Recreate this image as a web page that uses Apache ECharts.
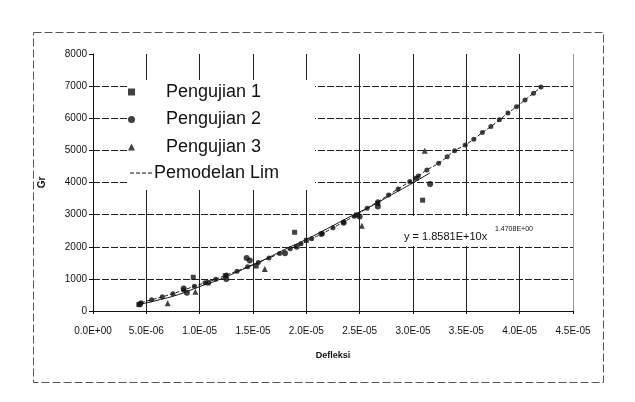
<!DOCTYPE html>
<html><head><meta charset="utf-8">
<script src="https://cdn.jsdelivr.net/npm/echarts@6/dist/echarts.min.js"></script>
<style>html,body{margin:0;padding:0;background:#fff}#c{width:635px;height:402px}</style>
</head><body><div id="c"></div>
<script>
// ---- data ----
const xTickLabels = ['0.0E+00','5.0E-06','1.0E-05','1.5E-05','2.0E-05','2.5E-05','3.0E-05','3.5E-05','4.0E-05','4.5E-05'];
const yTickLabels = ['0','1000','2000','3000','4000','5000','6000','7000','8000'];

const pengujian1 = [[4.3e-6,200],[9.4e-6,1050],[1.24e-5,1100],[1.53e-5,1400],[1.89e-5,2450],[2.0e-5,2200],[2.47e-5,2990],[2.67e-5,3350],[3.03e-5,4130],[3.09e-5,3450]];
const pengujian2 = [[4.4e-6,210],[8.5e-6,700],[8.8e-6,570],[1.08e-5,880],[1.25e-5,1000],[1.44e-5,1650],[1.47e-5,1570],[1.8e-5,1800],[1.91e-5,2000],[2.14e-5,2400],[2.35e-5,2750],[2.5e-5,2940],[2.67e-5,3250],[3.16e-5,3950]];
const pengujian3 = [[7.0e-6,240],[9.6e-6,600],[1.61e-5,1310],[2.52e-5,2650],[3.11e-5,4990]];

const modelX = [4.5e-6,5.5e-6,6.5e-6,7.5e-6,8.5e-6,9.5e-6,1.05e-5,1.15e-5,1.25e-5,1.35e-5,1.45e-5,1.55e-5,1.65e-5,1.75e-5,1.85e-5,1.95e-5,2.05e-5,2.15e-5,2.25e-5,2.35e-5,2.45e-5,2.57e-5,2.67e-5,2.77e-5,2.86e-5,2.97e-5,3.05e-5,3.13e-5,3.24e-5,3.32e-5,3.39e-5,3.49e-5,3.57e-5,3.65e-5,3.73e-5,3.81e-5,3.89e-5,3.97e-5,4.05e-5,4.13e-5,4.2e-5];
const modelY = [260,350,440,540,650,770,880,990,1120,1240,1380,1510,1650,1790,1940,2090,2250,2410,2590,2770,2950,3200,3400,3610,3800,4030,4200,4390,4600,4800,4990,5170,5350,5555,5740,5950,6160,6360,6570,6780,6970];

const trendX = [4.3e-6,6e-6,8e-6,1e-5,1.2e-5,1.4e-5,1.6e-5,1.8e-5,2e-5,2.2e-5,2.4e-5,2.6e-5,2.8e-5,3e-5,3.16e-5];
const trendY = [200,330,510,760,1000,1290,1590,1920,2230,2570,2920,3250,3620,3990,4300];

const eqMain = 'y = 1.8581E+10x';
const eqSup = '1.4708E+00';

// ---- chart ----
const FONT = '"Liberation Sans", Arial, sans-serif';
const INK = '#111';
const zip = (a,b) => a.map((v,i)=>[v,b[i]]);
const chart = echarts.init(document.getElementById('c'), null, {renderer:'canvas'});

const ySplitColors = yTickLabels.map((t,i)=> (i===0 || i===yTickLabels.length-1) ? 'transparent' : '#222');
const xSplitColors = xTickLabels.map((t,i)=> i===0 ? 'transparent' : (i===xTickLabels.length-1 ? '#999' : '#222'));
const dashIcon = 'path://M0,0h4v1h-4z M6,0h4v1h-4z M12,0h4v1h-4z M18,0h4v1h-4z';

chart.setOption({
  animation:false,
  backgroundColor:'#fff',
  grid:{left:93, right:62, top:54, bottom:91, containLabel:false},
  xAxis:{
    type:'value', min:0, max:4.5e-5, interval:5e-6,
    name:'Defleksi', nameLocation:'middle', nameGap:40,
    nameTextStyle:{fontFamily:FONT, fontSize:9, fontWeight:'bold', color:INK},
    axisLine:{show:true, lineStyle:{color:INK, width:1}},
    axisTick:{show:true, length:3, lineStyle:{color:INK}},
    axisLabel:{margin:15, fontFamily:FONT, fontSize:10, color:INK,
      formatter:(v)=> xTickLabels[Math.round(v/5e-6)] || ''},
    splitLine:{show:true, lineStyle:{color:xSplitColors, width:1}}
  },
  yAxis:{
    type:'value', min:0, max:8000, interval:1000,
    name:'Gr', nameLocation:'middle', nameGap:46, nameRotate:90,
    nameTextStyle:{fontFamily:FONT, fontSize:10, fontWeight:'bold', color:INK},
    axisLine:{show:true, lineStyle:{color:INK, width:1}},
    axisTick:{show:true, length:4, lineStyle:{color:INK}},
    axisLabel:{margin:6, fontFamily:FONT, fontSize:10, color:INK,
      formatter:(v)=> yTickLabels[Math.round(v/1000)] || ''},
    splitLine:{show:true, lineStyle:{color:ySplitColors, width:1, type:[7,2]}}
  },
  legend:[
    {data:['Pengujian 1','Pengujian 2','Pengujian 3'], orient:'vertical', left:128, top:83,
     padding:0, itemWidth:7, itemHeight:7, itemGap:9.5, selectedMode:false,
     textStyle:{fontFamily:FONT, fontSize:18, color:INK, padding:[0,0,0,26]}},
    {data:[{name:'Pemodelan Lim', icon:dashIcon, itemStyle:{color:INK}}], orient:'vertical', left:130, top:164, padding:0,
     itemWidth:22, itemHeight:8, selectedMode:false,
     textStyle:{fontFamily:FONT, fontSize:18, color:INK, padding:[0,0,0,-3]}}
  ],
  graphic:[
    {type:'rect', z:1, silent:true, shape:{x:127, y:80, width:188, height:110}, style:{fill:'#fff'}},
    {type:'rect', z:1, silent:true, shape:{x:395, y:216, width:172, height:30}, style:{fill:'#fff'}},
    {type:'text', z:5, left:404, top:231, style:{text:eqMain, font:'11px '+FONT, fill:INK}},
    {type:'text', z:5, left:495, top:226, style:{text:eqSup, font:'7px '+FONT, fill:INK}},
    {type:'rect', z:5, silent:true, shape:{x:33.5, y:32.5, width:570, height:350},
     style:{fill:'none', stroke:'#555', lineWidth:1, lineDash:[8,3]}}
  ],
  series:[
    {name:'Trend', type:'line', smooth:true, symbol:'none', data:zip(trendX,trendY),
     lineStyle:{color:INK, width:1}, z:3},
    {name:'Pemodelan Lim', type:'line', smooth:true, symbol:'none', data:zip(modelX,modelY),
     lineStyle:{color:INK, width:1, type:[4,2]}, itemStyle:{color:INK}, z:3},
    {name:'Model points', type:'scatter', symbol:'circle', symbolSize:5, data:zip(modelX,modelY),
     itemStyle:{color:INK}, z:4},
    {name:'Pengujian 1', type:'scatter', symbol:'rect', symbolSize:5, data:pengujian1, itemStyle:{color:INK}, z:4},
    {name:'Pengujian 2', type:'scatter', symbol:'circle', symbolSize:6, data:pengujian2, itemStyle:{color:INK}, z:4},
    {name:'Pengujian 3', type:'scatter', symbol:'triangle', symbolSize:6, data:pengujian3, itemStyle:{color:INK}, z:4}
  ]
});
</script></body></html>
